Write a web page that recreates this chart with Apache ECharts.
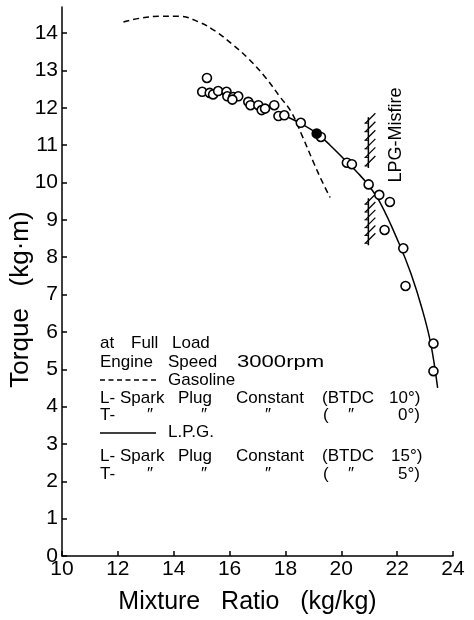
<!DOCTYPE html>
<html><head><meta charset="utf-8">
<script src="https://cdn.jsdelivr.net/npm/echarts@6/dist/echarts.min.js"></script>
<style>html,body{margin:0;padding:0;background:#fff}#c{width:474px;height:620px}</style>
</head><body><div id="c"></div>
<script>
// ---- data ----
const xTickValues = [10, 12, 14, 16, 18, 20, 22, 24];
const yTickValues = [0,1,2,3,4,5,6,7,8,9,10,11,12,13,14];

// Gasoline (dashed curve)
const gasolineX = [12.2, 12.8, 13.5, 14.2, 14.9, 15.5, 16.1, 16.7, 17.3, 17.8, 18.2, 18.6, 19.0, 19.3, 19.6];
const gasolineY = [14.3, 14.4, 14.45, 14.45, 14.3, 14.05, 13.7, 13.3, 12.8, 12.3, 11.9, 11.25, 10.55, 10.05, 9.6];

// L.P.G. (solid curve)
const lpgX = [17.8, 18.5, 19.1, 19.6, 20.2, 20.6, 20.95, 21.4, 22.05, 22.5, 22.9, 23.2, 23.45];
const lpgY = [11.85, 11.6, 11.33, 11.0, 10.55, 10.25, 9.95, 9.45, 8.4, 7.55, 6.6, 5.7, 4.5];

// measured points (open circles)
const ptX = [15.19, 15.02, 15.29, 15.41, 15.59, 15.89, 15.92, 16.13, 16.31, 16.10, 16.67, 16.75, 17.03, 17.15, 17.27, 17.60, 17.75, 17.96, 18.55, 19.27, 20.20, 20.38, 20.98, 21.36, 21.74, 21.55, 22.22, 22.30, 23.30, 23.30];
const ptY = [12.80, 12.43, 12.40, 12.36, 12.45, 12.43, 12.31, 12.29, 12.31, 12.22, 12.16, 12.07, 12.07, 11.94, 11.98, 12.07, 11.78, 11.80, 11.60, 11.22, 10.53, 10.49, 9.95, 9.67, 9.48, 8.73, 8.24, 7.23, 5.69, 4.95];
// filled point
const filledX = [19.12];
const filledY = [11.31];

// LPG misfire limit marks: [x, yLow, yHigh, hatchCount]
const misfireX = [20.97, 20.97];
const misfireLow = [10.39, 8.32];
const misfireHigh = [11.75, 9.58];
const misfireHatches = [6, 6];

const zip = (a, b) => a.map((v, i) => [v, b[i]]);

const FONT = '"Liberation Sans", "DejaVu Sans", sans-serif';
const chart = echarts.init(document.getElementById('c'), null, {renderer: 'canvas'});

// legend / annotation text pieces: [text, x, y, scaleX]
const notes = [
  ['at', 100, 343], ['Full', 131, 343], ['Load', 172, 343],
  ['Engine', 100, 362], ['Speed', 168, 362], ['3000rpm', 237, 362, 1.3],
  ['Gasoline', 168, 380],
  ['L-', 100, 398], ['Spark', 120, 398], ['Plug', 178, 398], ['Constant', 236, 398], ['(BTDC', 322, 398], ['10°)', 389, 398],
  ['T-', 100, 415], ['″', 147, 415], ['″', 201, 415], ['″', 265, 415], ['(', 323, 415], ['″', 348, 415], ['0°)', 398, 415],
  ['L.P.G.', 168, 432],
  ['L-', 100, 456], ['Spark', 120, 456], ['Plug', 178, 456], ['Constant', 236, 456], ['(BTDC', 322, 456], ['15°)', 391, 456],
  ['T-', 100, 474], ['″', 147, 474], ['″', 201, 474], ['″', 265, 474], ['(', 323, 474], ['″', 348, 474], ['5°)', 398, 474]
];

const graphics = notes.map(n => ({
  type: 'text', x: n[1], y: n[2], scaleX: n[3] || 1,
  style: {text: n[0], font: '17px ' + FONT, fill: '#000', verticalAlign: 'middle'}
}));
graphics.push({type: 'line', shape: {x1: 100, y1: 380, x2: 156, y2: 380}, style: {stroke: '#000', lineWidth: 1.5, lineDash: [5, 3.5]}});
graphics.push({type: 'line', shape: {x1: 100, y1: 433, x2: 156, y2: 433}, style: {stroke: '#000', lineWidth: 1.5}});
graphics.push({type: 'text', x: 396, y: 135, rotation: Math.PI / 2,
  style: {text: 'LPG-Misfire', font: '18px ' + FONT, fill: '#000', align: 'center', verticalAlign: 'middle'}});

const option = {
  animation: false,
  backgroundColor: '#fff',
  grid: {left: 62, right: 21, top: 7, bottom: 64, outerBoundsMode: 'none', containLabel: false},
  xAxis: {
    type: 'value', min: 10, max: 24, interval: 2,
    name: 'Mixture   Ratio   (kg/kg)', nameLocation: 'middle', nameGap: 34, nameMoveOverlap: false,
    nameTextStyle: {fontSize: 25, color: '#000', fontFamily: FONT, padding: [0, 20, 0, 0]},
    axisLine: {lineStyle: {color: '#000', width: 1.5}},
    axisTick: {inside: true, length: 5, lineStyle: {color: '#000', width: 1.5}},
    axisLabel: {fontSize: 21, color: '#000', fontFamily: FONT, margin: 3, customValues: xTickValues},
    splitLine: {show: false}
  },
  yAxis: {
    type: 'value', min: 0, max: 14.7, interval: 1,
    name: 'Torque   (kg·m)', nameLocation: 'middle', nameGap: 28, nameRotate: 90, nameMoveOverlap: false,
    nameTextStyle: {fontSize: 26, color: '#000', fontFamily: FONT, padding: [0, 36, 0, 0]},
    axisLine: {show: true, lineStyle: {color: '#000', width: 1.5}},
    axisTick: {show: true, inside: true, length: 5, lineStyle: {color: '#000', width: 1.5}, customValues: yTickValues},
    axisLabel: {fontSize: 21, color: '#000', fontFamily: FONT, margin: 4, customValues: yTickValues},
    splitLine: {show: false}
  },
  graphic: graphics,
  series: [
    {
      type: 'line', name: 'Gasoline', data: zip(gasolineX, gasolineY), smooth: 0.4, symbol: 'none',
      lineStyle: {color: '#000', width: 1.5, type: [6, 4]}, z: 2
    },
    {
      type: 'line', name: 'L.P.G.', data: zip(lpgX, lpgY), smooth: 0.4, symbol: 'none',
      lineStyle: {color: '#000', width: 1.5}, z: 2
    },
    {
      type: 'scatter', data: zip(ptX, ptY), symbol: 'circle', symbolSize: 9,
      itemStyle: {color: '#fff', borderColor: '#000', borderWidth: 1.6, opacity: 1}, z: 3
    },
    {
      type: 'scatter', data: zip(filledX, filledY), symbol: 'circle', symbolSize: 9,
      itemStyle: {color: '#000', borderColor: '#000', borderWidth: 1.6, opacity: 1}, z: 3
    },
    {
      type: 'custom', z: 3,
      data: misfireX.map((x, i) => [x, misfireLow[i], misfireHigh[i], misfireHatches[i]]),
      renderItem: function (params, api) {
        const x = api.value(0);
        const lo = api.coord([x, api.value(1)]);
        const hi = api.coord([x, api.value(2)]);
        const n = api.value(3);
        const children = [{
          type: 'line', shape: {x1: lo[0], y1: lo[1], x2: hi[0], y2: hi[1]},
          style: {stroke: '#000', lineWidth: 1.5}
        }];
        const y0 = hi[1] + 3, y1 = lo[1] - 5;
        for (let k = 0; k < n; k++) {
          const yy = y0 + k * (y1 - y0) / (n - 1);
          children.push({type: 'line', shape: {x1: lo[0] - 3, y1: yy + 3, x2: lo[0] + 7, y2: yy - 7},
            style: {stroke: '#000', lineWidth: 1.3}});
          children.push({type: 'line', shape: {x1: lo[0] - 4, y1: yy + 3, x2: lo[0], y2: yy + 3},
            style: {stroke: '#000', lineWidth: 1}});
        }
        return {type: 'group', children: children};
      }
    }
  ]
};
chart.setOption(option);
</script>
</body></html>
